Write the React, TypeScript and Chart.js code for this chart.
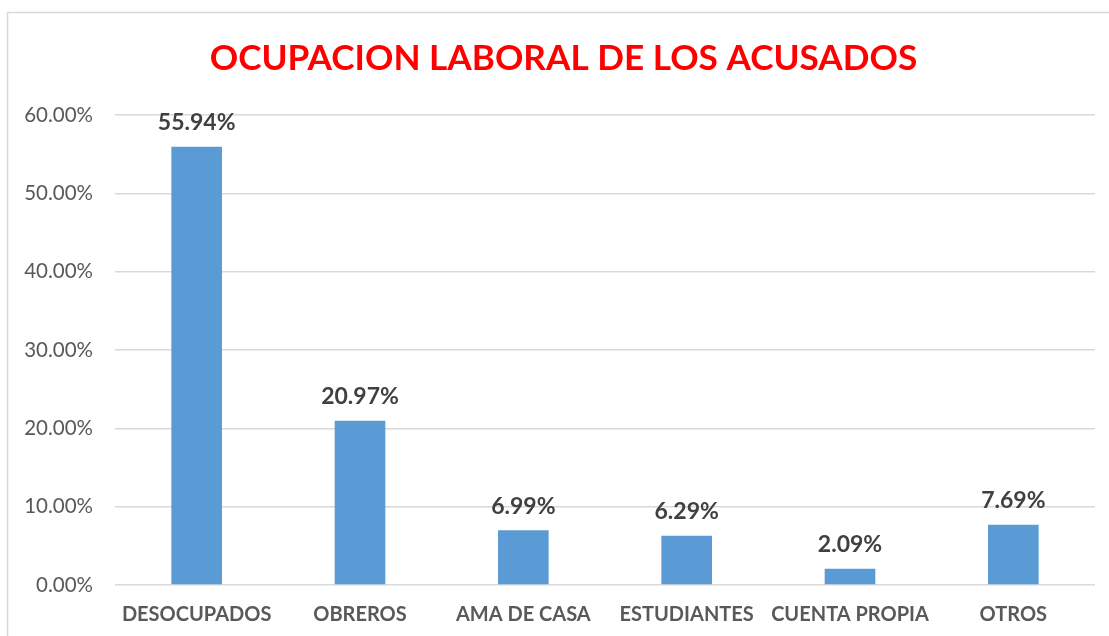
import React, { useEffect, useRef } from "react";
import { Chart, registerables } from "chart.js";

Chart.register(...registerables);

const categories = ["DESOCUPADOS", "OBREROS", "AMA DE CASA", "ESTUDIANTES", "CUENTA PROPIA", "OTROS"];
const values = [55.94, 20.97, 6.99, 6.29, 2.09, 7.69];
const titleText = "OCUPACION LABORAL DE LOS ACUSADOS";
const FONT = "Lato, 'Open Sans', sans-serif";

const frame = {
  id: "frame",
  beforeDraw(chart: any) {
    const ctx = chart.ctx;
    ctx.save();
    ctx.strokeStyle = "#d9d9d9";
    ctx.lineWidth = 1.5;
    ctx.strokeRect(7.5, 12.5, chart.width + 20, chart.height + 20);
    ctx.fillStyle = "#ff0000";
    ctx.font = `bold 35.2px ${FONT}`;
    ctx.textAlign = "center";
    ctx.textBaseline = "middle";
    ctx.fillText(titleText, 563.5, 58.4);
    ctx.restore();
  },
};

const labels = {
  id: "barLabels",
  afterDatasetsDraw(chart: any) {
    const ctx = chart.ctx;
    const meta = chart.getDatasetMeta(0);
    ctx.save();
    ctx.font = `bold 23px ${FONT}`;
    ctx.fillStyle = "#404040";
    ctx.textAlign = "center";
    ctx.textBaseline = "middle";
    meta.data.forEach((bar: any, i: number) => {
      ctx.fillText(values[i].toFixed(2) + "%", bar.x, bar.y - 24);
    });
    ctx.restore();
  },
};

export default function App() {
  const ref = useRef<HTMLCanvasElement>(null);
  useEffect(() => {
    const chart = new Chart(ref.current!, {
      type: "bar",
      data: {
        labels: categories,
        datasets: [
          {
            data: values,
            backgroundColor: "#5b9bd5",
            barPercentage: 0.31,
            categoryPercentage: 1,
          },
        ],
      },
      options: {
        animation: false,
        responsive: false,
        layout: { padding: { left: 10, right: 14, top: 115, bottom: 11 } },
        plugins: {
          legend: { display: false },
          tooltip: { enabled: false },
          title: { display: false },
        },
        scales: {
          x: {
            afterFit: (s: any) => {
              s.height = 40;
            },
            grid: { display: false, drawTicks: false },
            border: { display: false },
            ticks: {
              color: "#595959",
              font: { family: FONT, size: 20, weight: "bold" },
              padding: 18,
              maxRotation: 0,
              autoSkip: false,
            },
          },
          y: {
            min: 0,
            max: 60,
            afterFit: (s: any) => {
              s.width = 105;
            },
            grid: { color: "#d9d9d9", lineWidth: 1.5, drawTicks: false },
            border: { display: false },
            ticks: {
              stepSize: 10,
              color: "#595959",
              font: { family: FONT, size: 20.5 },
              padding: 22,
              callback: (v: any) => Number(v).toFixed(2) + "%",
            },
          },
        },
      },
      plugins: [frame, labels],
    });
    return () => chart.destroy();
  }, []);
  return (
    <div style={{ position: "fixed", left: 0, top: 0, width: 1109, height: 636, background: "#fff" }}>
      <canvas ref={ref} width={1109} height={636} />
    </div>
  );
}
